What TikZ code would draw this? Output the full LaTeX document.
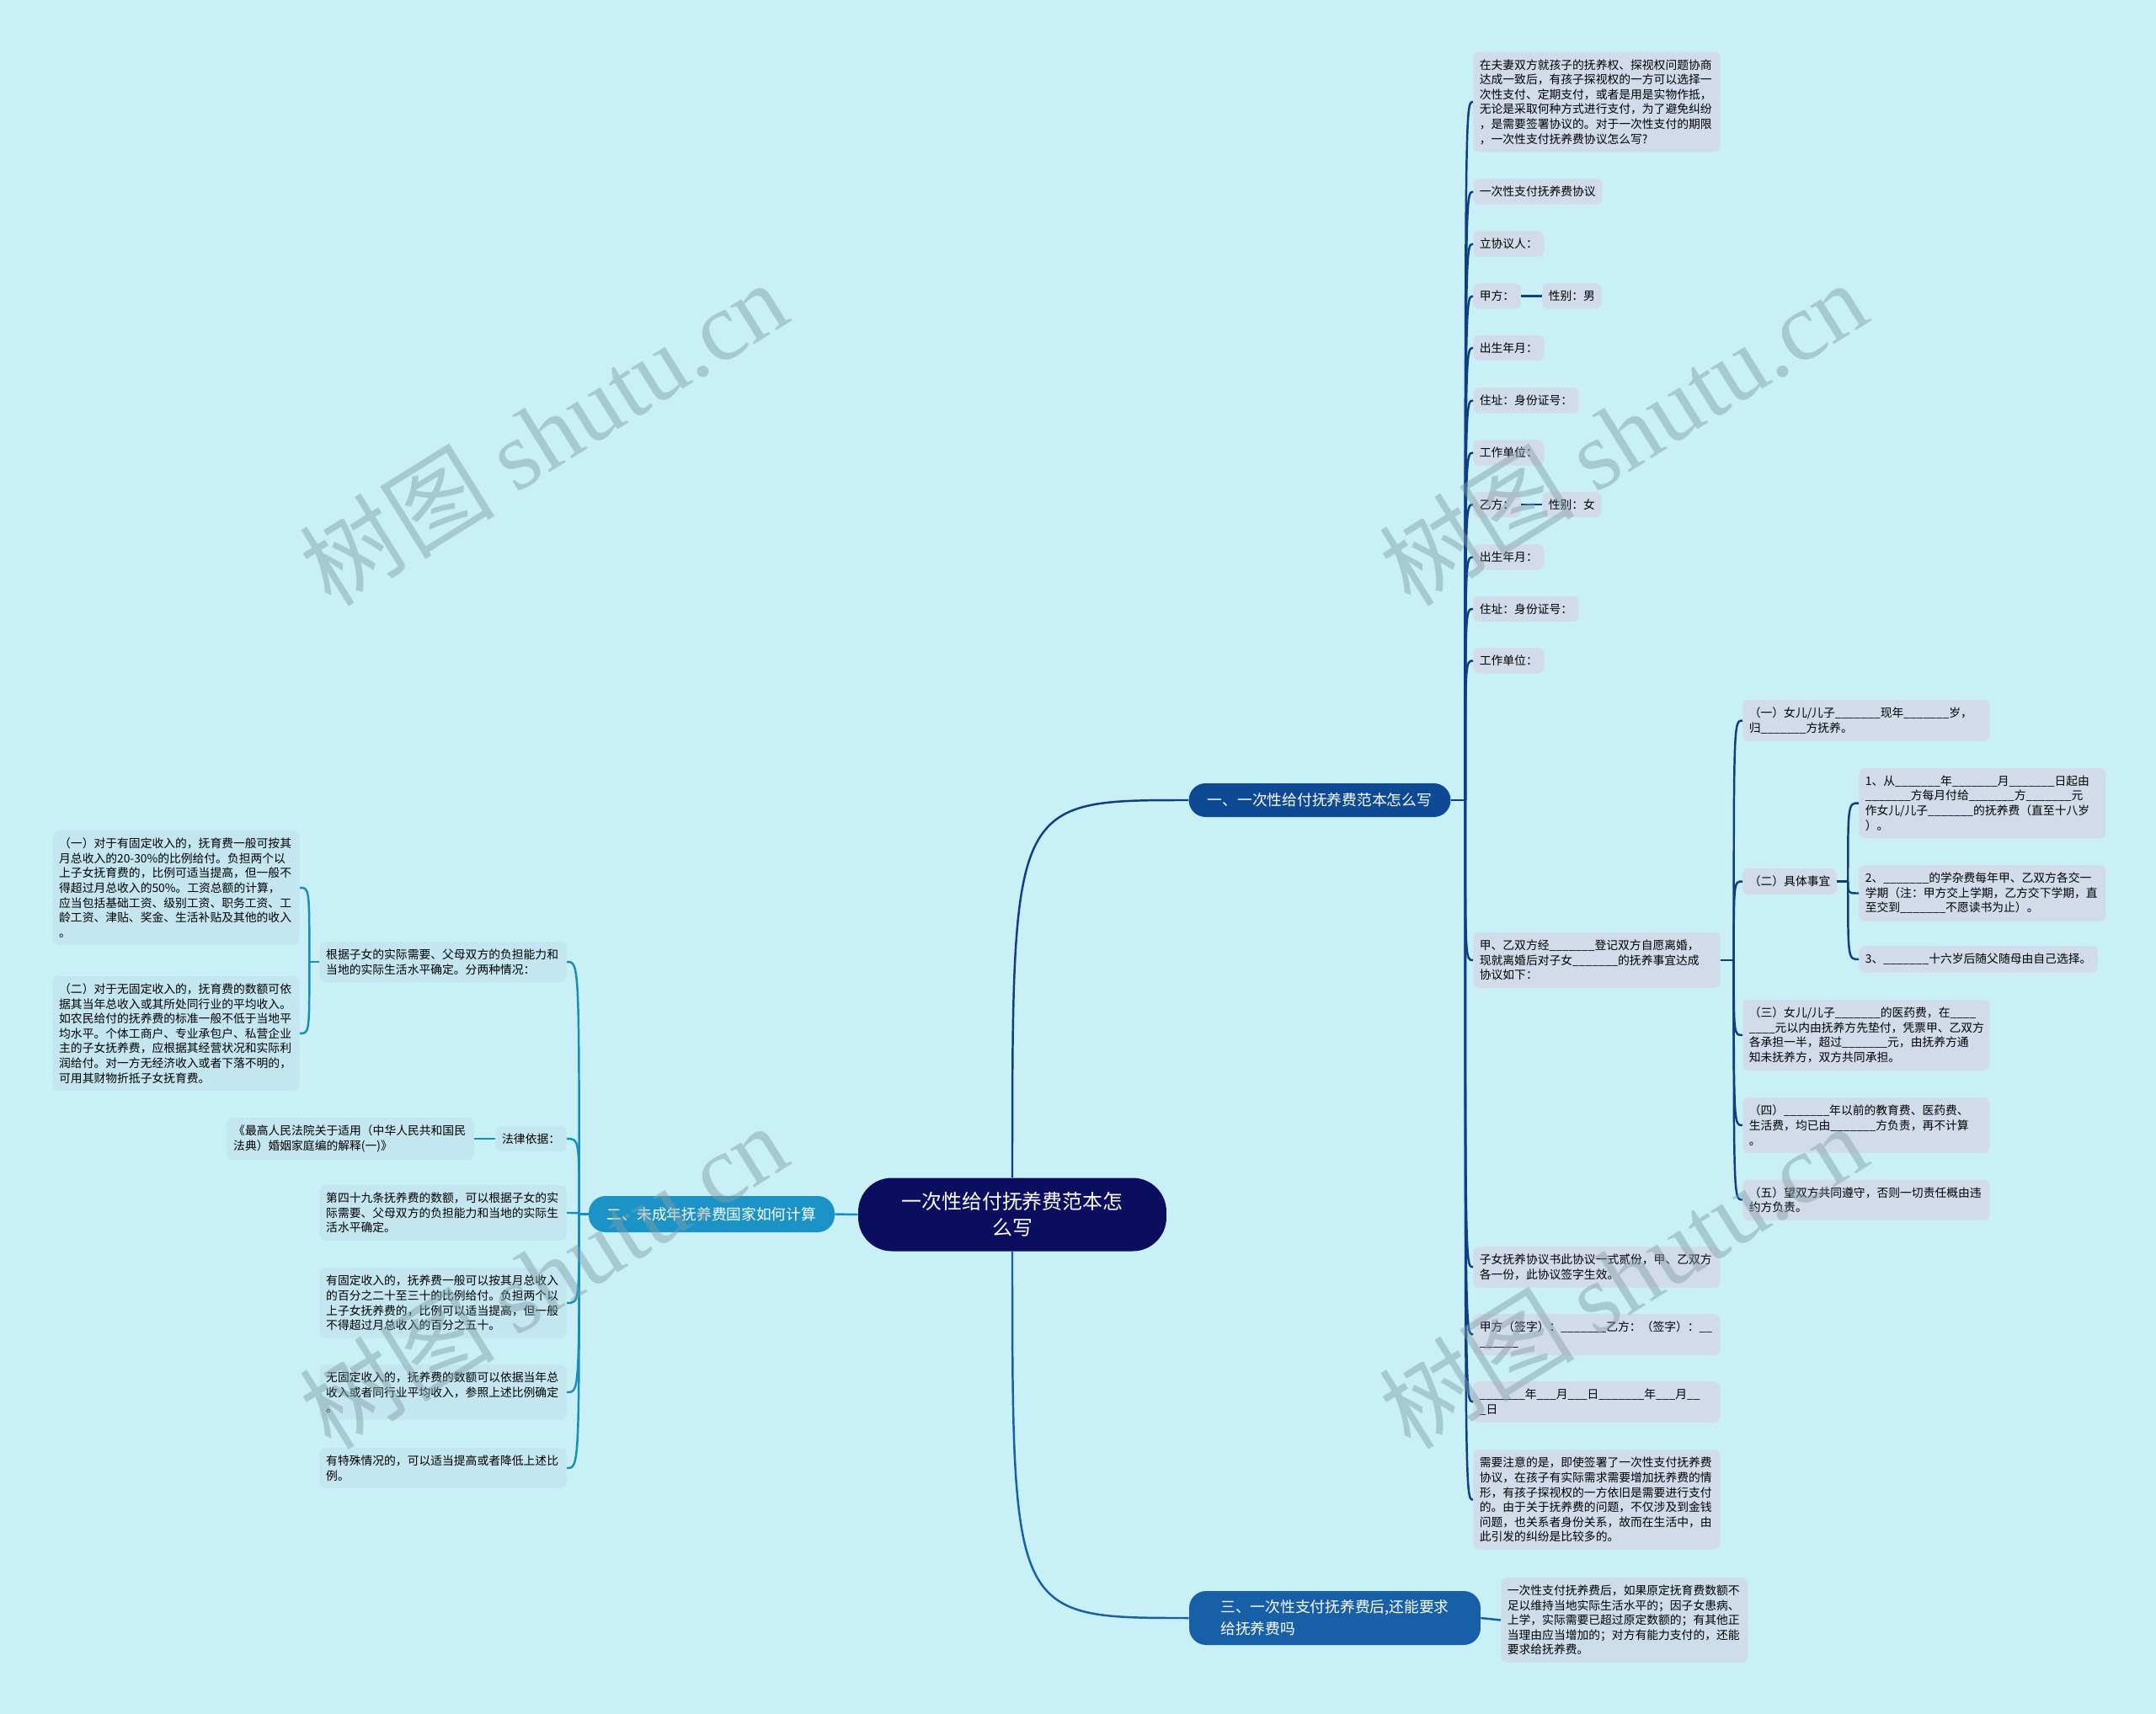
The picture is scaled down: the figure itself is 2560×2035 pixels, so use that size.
\documentclass[tikz,border=0pt]{standalone}
\usepackage{fontspec}
\setmainfont{Noto Sans CJK SC}
\newfontfamily\wmfont{Liberation Serif}
\definecolor{bgc}{HTML}{C9EFF7}
\definecolor{boxa}{HTML}{D2DBE9}
\definecolor{boxb}{HTML}{C4E6F0}
\definecolor{boxc}{HTML}{CDDDEA}
\definecolor{rootc}{HTML}{0B0D5E}
\definecolor{bra}{HTML}{0E4A94}
\definecolor{brb}{HTML}{1B93C7}
\definecolor{brc}{HTML}{1760A8}
\definecolor{linea}{HTML}{0E3F86}
\definecolor{lineb}{HTML}{1A8DBF}
\definecolor{wmc}{HTML}{7F9FA6}
\newcommand\bl{\_\_\_\_\_\_\_}

\begin{document}
\begin{tikzpicture}[x=0.02cm, y=-0.02cm,
sub/.style={rounded corners=0.14cm, inner xsep=0.15cm, inner ysep=0.175cm,
  align=left, font=\fontsize{7.85}{10}\selectfont},
suba/.style={sub, fill=boxa},
subb/.style={sub, fill=boxb},
subc/.style={sub, fill=boxc},
para/.style={text width=5.56cm},
branch/.style={text=white, rounded corners=0.4cm, inner xsep=0pt,
  font=\fontsize{10.1}{14.8}\selectfont},
la/.style={draw=linea, line width=1.4pt},
lb/.style={draw=lineb, line width=1.4pt},
lc/.style={draw=brc, line width=1.4pt},
wmark/.style={text=wmc, opacity=0.45, rotate=32, font=\fontsize{66}{66}\selectfont}]
\fill[bgc] (0,0) rectangle (2560,2035);
\useasboundingbox (0,0) rectangle (2560,2035);

\node[fill=rootc, text=white, rounded corners=0.8cm, minimum width=7.32cm,
  minimum height=1.74cm, inner sep=0pt, align=center,
  font=\fontsize{13.6}{17.6}\selectfont] (root) at (1202,1442) {一次性给付抚养费范本怎\\么写};
\node[branch, fill=bra, minimum width=6.22cm, minimum height=0.8cm] (b1) at (1567,950) {一、一次性给付抚养费范本怎么写};
\node[branch, fill=brb, minimum width=5.84cm, minimum height=0.86cm] (b2) at (845,1441.5) {二、未成年抚养费国家如何计算};
\node[branch, fill=brc, minimum width=6.92cm, minimum height=1.28cm, align=left] (b3) at (1585,1921) {三、一次性支付抚养费后,还能要求\\给抚养费吗};

\node[suba, para, anchor=west] (intro) at (1749,121) {在夫妻双方就孩子的抚养权、探视权问题协商\\达成一致后，有孩子探视权的一方可以选择一\\次性支付、定期支付，或者是用是实物作抵，\\无论是采取何种方式进行支付，为了避免纠纷\\，是需要签署协议的。对于一次性支付的期限\\，一次性支付抚养费协议怎么写?};
\node[suba, anchor=west] (xieyi) at (1749,227.5) {一次性支付抚养费协议};
\node[suba, anchor=west] (liren) at (1749,289.5) {立协议人：};
\node[suba, anchor=west] (jia) at (1749,351.5) {甲方：};
\node[suba, anchor=west] (jiasex) at (1831,351.5) {性别：男};
\node[suba, anchor=west] (birtha) at (1749,413) {出生年月：};
\node[suba, anchor=west] (addra) at (1749,475.5) {住址：身份证号：};
\node[suba, anchor=west] (worka) at (1749,537.5) {工作单位：};
\node[suba, anchor=west] (yi) at (1749,599) {乙方：};
\node[suba, anchor=west] (yisex) at (1831,599) {性别：女};
\node[suba, anchor=west] (birthb) at (1749,661.5) {出生年月：};
\node[suba, anchor=west] (addrb) at (1749,723) {住址：身份证号：};
\node[suba, anchor=west] (workb) at (1749,784.5) {工作单位：};
\node[suba, para, anchor=west] (agree) at (1749,1140) {甲、乙双方经\bl 登记双方自愿离婚，\\现就离婚后对子女\bl 的抚养事宜达成\\协议如下：};
\node[suba, para, anchor=west] (copies) at (1749,1504.5) {子女抚养协议书此协议一式贰份，甲、乙双方\\各一份，此协议签字生效。};
\node[suba, para, anchor=west] (sign) at (1749,1584.5) {甲方（签字）：\bl 乙方：（签字）：\_\_\\\_\_\_\_\_\_};
\node[suba, para, anchor=west] (date) at (1749,1664.5) {\bl 年\_\_\_月\_\_\_日\bl 年\_\_\_月\_\_\\\_日};
\node[suba, para, anchor=west] (note) at (1749,1780.5) {需要注意的是，即使签署了一次性支付抚养费\\协议，在孩子有实际需求需要增加抚养费的情\\形，有孩子探视权的一方依旧是需要进行支付\\的。由于关于抚养费的问题，不仅涉及到金钱\\问题，也关系者身份关系，故而在生活中，由\\此引发的纠纷是比较多的。};

\node[suba, para, anchor=west] (ca) at (2069,855.5) {（一）女儿/儿子\bl 现年\bl 岁，\\归\bl 方抚养。};
\node[suba, anchor=west] (cb) at (2069,1046.5) {（二）具体事宜};
\node[suba, para, anchor=west] (cc) at (2069,1229) {（三）女儿/儿子\bl 的医药费，在\_\_\_\_\\\_\_\_\_元以内由抚养方先垫付，凭票甲、乙双方\\各承担一半，超过\bl 元，由抚养方通\\知未抚养方，双方共同承担。};
\node[suba, para, anchor=west] (cd) at (2069,1336) {（四）\bl 年以前的教育费、医药费、\\生活费，均已由\bl 方负责，再不计算\\。};
\node[suba, para, anchor=west] (ce) at (2069,1424.5) {（五）望双方共同遵守，否则一切责任概由违\\约方负责。};
\node[suba, para, anchor=west] (da) at (2207,953.5) {1、从\bl 年\bl 月\bl 日起由\\\bl 方每月付给\bl 方\bl 元\\作女儿/儿子\bl 的抚养费（直至十八岁\\）。};
\node[suba, para, anchor=west] (db) at (2207,1060.5) {2、\bl 的学杂费每年甲、乙双方各交一\\学期（注：甲方交上学期，乙方交下学期，直\\至交到\bl 不愿读书为止）。};
\node[suba, anchor=west] (dc) at (2207,1139) {3、\bl 十六岁后随父随母由自己选择。};

\node[subb, para, anchor=east] (gen) at (673,1142) {根据子女的实际需要、父母双方的负担能力和\\当地的实际生活水平确定。分两种情况：};
\node[subb, para, anchor=east] (ga) at (356,1054) {（一）对于有固定收入的，抚育费一般可按其\\月总收入的20-30\%的比例给付。负担两个以\\上子女抚育费的，比例可适当提高，但一般不\\得超过月总收入的50\%。工资总额的计算，\\应当包括基础工资、级别工资、职务工资、工\\龄工资、津贴、奖金、生活补贴及其他的收入\\。};
\node[subb, para, anchor=east] (gb) at (356,1227) {（二）对于无固定收入的，抚育费的数额可依\\据其当年总收入或其所处同行业的平均收入。\\如农民给付的抚养费的标准一般不低于当地平\\均水平。个体工商户、专业承包户、私营企业\\主的子女抚养费，应根据其经营状况和实际利\\润给付。对一方无经济收入或者下落不明的，\\可用其财物折抵子女抚育费。};
\node[subb, anchor=east] (law) at (673,1352) {法律依据：};
\node[subb, para, anchor=east] (lawsrc) at (563,1352) {《最高人民法院关于适用（中华人民共和国民\\法典）婚姻家庭编的解释(一)》};
\node[subb, para, anchor=east] (art) at (673,1440) {第四十九条抚养费的数额，可以根据子女的实\\际需要、父母双方的负担能力和当地的实际生\\活水平确定。};
\node[subb, para, anchor=east] (fixed) at (673,1547) {有固定收入的，抚养费一般可以按其月总收入\\的百分之二十至三十的比例给付。负担两个以\\上子女抚养费的，比例可以适当提高，但一般\\不得超过月总收入的百分之五十。};
\node[subb, para, anchor=east] (nofix) at (673,1653) {无固定收入的，抚养费的数额可以依据当年总\\收入或者同行业平均收入，参照上述比例确定\\。};
\node[subb, para, anchor=east] (special) at (673,1743) {有特殊情况的，可以适当提高或者降低上述比\\例。};

\node[subc, para, anchor=west] (after) at (1782,1923.5) {一次性支付抚养费后，如果原定抚育费数额不\\足以维持当地实际生活水平的；因子女患病、\\上学，实际需要已超过原定数额的；有其他正\\当理由应当增加的；对方有能力支付的，还能\\要求给抚养费。};

\draw[la] (root.north) .. controls (root.north |- b1.west) .. (b1.west);
\draw[lc] (root.south) .. controls (root.south |- b3.west) .. (b3.west);
\draw[lb] (root.west) -- (b2.east);

\draw[la] (b1.east) -- ++(17,0) coordinate (s1);
\foreach \n in {intro,xieyi,liren,jia,birtha,addra,worka,yi,birthb,addrb,workb,agree,copies,sign,date,note}
  \draw[la] (s1) .. controls (s1 |- \n.west) .. (\n.west);
\draw[la] (jia.east) -- (jiasex.west);
\draw[la] (yi.east) -- (yisex.west);
\draw[la] (agree.east) -- ++(16,0) coordinate (s2);
\foreach \n in {ca,cb,cc,cd,ce}
  \draw[la] (s2) .. controls (s2 |- \n.west) .. (\n.west);
\draw[la] (cb.east) -- ++(13,0) coordinate (s3);
\foreach \n in {da,db,dc}
  \draw[la] (s3) .. controls (s3 |- \n.west) .. (\n.west);

\draw[lb] (b2.west) -- ++(-11,0) coordinate (t1);
\foreach \n in {gen,law,art,fixed,nofix,special}
  \draw[lb] (t1) .. controls (t1 |- \n.east) .. (\n.east);
\draw[lb] (law.west) -- (lawsrc.east);
\draw[lb] (gen.west) -- ++(-12,0) coordinate (t2);
\foreach \n in {ga,gb}
  \draw[lb] (t2) .. controls (t2 |- \n.east) .. (\n.east);

\draw[lc] (b3.east) -- (after.west);

\foreach \x/\y [count=\i] in {645/514,1927/514,645/1515,1927/1515}
  \node[wmark] (mark\i) at (\x,\y) {树图 {\wmfont shutu.cn}};
\end{tikzpicture}
\end{document}
